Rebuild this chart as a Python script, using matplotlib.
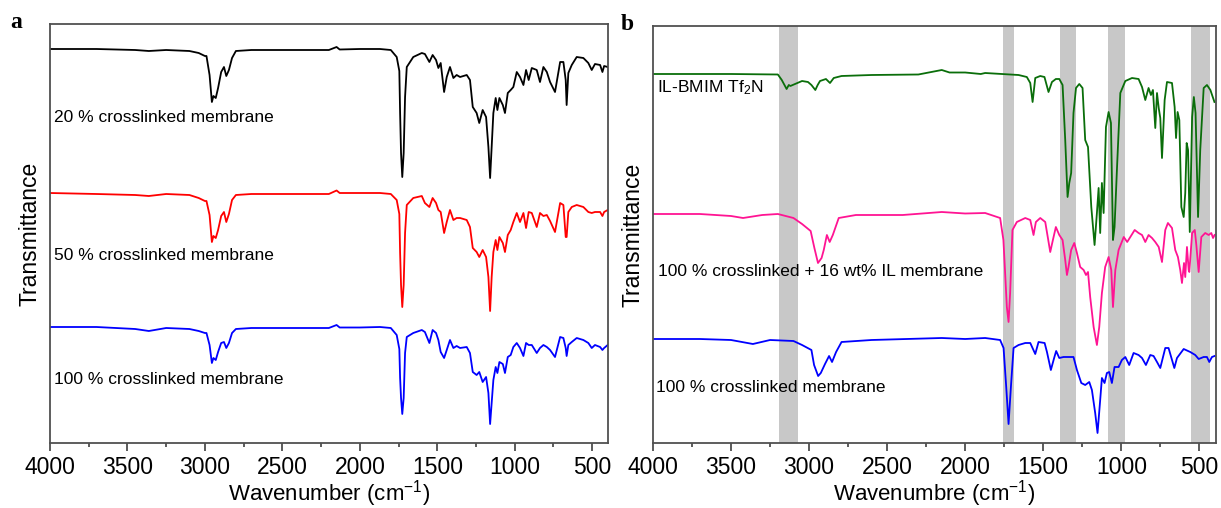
import numpy as np
import matplotlib.pyplot as plt
from matplotlib.ticker import MultipleLocator

# ---------------- panel a : wavenumber / transmittance (a.u., stacked) ----------------
wn_a = [4000, 3700, 3450, 3362, 3250, 3100, 3040, 3000, 2990, 2970, 2955, 2945, 2930, 2915,
        2895, 2877, 2862, 2845, 2825, 2800, 2700, 2500, 2300, 2200, 2150, 2130, 2000, 1870,
        1800, 1762, 1745, 1740, 1734, 1726, 1717, 1708, 1697, 1655, 1600, 1580, 1551, 1530,
        1508, 1493, 1478, 1456, 1439, 1418, 1396, 1375, 1353, 1310, 1289, 1271, 1246, 1229,
        1207, 1185, 1170, 1159, 1149, 1138, 1123, 1112, 1099, 1077, 1063, 1045, 1026, 1009,
        987, 966, 944, 927, 910, 890, 858, 837, 815, 793, 772, 740, 707, 686, 671, 665, 654,
        632, 600, 557, 525, 503, 482, 449, 434, 423, 400]
t_20 = [394, 394, 393, 392, 393, 392, 390, 387, 387, 368, 341, 347, 345, 355,
        371, 376, 367, 373, 385, 392, 393, 393, 393, 393, 396, 393.5, 394, 394,
        393, 386, 372, 330, 290, 266, 290, 346, 376, 386, 390, 389, 381, 388,
        383, 375, 380, 351, 366, 376, 365, 368, 366, 368, 363, 336, 330, 320,
        333, 326, 296, 265, 296, 330, 345, 333, 345, 338, 330, 350, 353, 356,
        371, 366, 358, 373, 363, 375, 373, 361, 376, 371, 361, 351, 381, 381, 363, 338, 370,
        378, 386, 385, 380, 373, 379, 378, 371, 377, 376]
t_50 = [250, 249, 248, 247, 249, 248, 245, 242, 242, 228, 201, 207, 205, 213,
        227, 231, 221, 229, 243, 248, 249, 249, 249, 249, 252.5, 250, 250, 250,
        249, 243, 229, 190, 158, 136, 158, 210, 238, 245, 247, 240, 236, 245,
        240, 233, 231, 210, 221, 233, 223, 225, 225, 223, 216, 195, 191, 186,
        193, 186, 166, 132, 166, 191, 203, 193, 206, 200, 191, 208, 213, 221,
        230, 221, 230, 215, 231, 230, 216, 230, 227, 228, 222, 211, 240, 238, 206, 206, 231,
        236, 238, 236, 231, 230, 231, 231, 227, 231, 233]
t_100a = [116, 116, 114, 112, 115, 114, 112, 110, 110, 98, 80, 85, 83, 91,
          100, 101, 95, 100, 110, 114, 115, 115, 115, 115, 118, 115.5, 115.5, 116,
          115, 108, 94, 65, 45, 29, 45, 90, 106, 110, 113, 111, 100, 113,
          110, 103, 91, 85, 93, 103, 95, 97, 95, 96, 90, 71, 68, 71,
          61, 66, 50, 19, 40, 63, 76, 70, 81, 79, 70, 86, 88, 96,
          100, 95, 87, 100, 98, 98, 90, 95, 98, 96, 93, 86, 106, 105, 95, 87, 98,
          101, 105, 103, 100, 95, 98, 96, 93, 95, 98]

# ---------------- panel b ----------------
wn_il = [4000, 3500, 3200, 3175, 3144, 3130, 3120, 3090, 3045, 3007, 2985, 2960, 2945, 2930,
         2892, 2866, 2842, 2792, 2600, 2300, 2150, 2100, 2000, 1900, 1872, 1658, 1605, 1583,
         1568, 1551, 1519, 1492, 1466, 1444, 1419, 1397, 1376, 1359, 1344, 1333, 1321, 1306,
         1290, 1269, 1248, 1231, 1213, 1192, 1171, 1156, 1145, 1135, 1124, 1113, 1098, 1081,
         1066, 1053, 1043, 1027, 1006, 974, 931, 889, 867, 846, 825, 810, 797, 782, 771, 760,
         750, 739, 722, 707, 675, 658, 649, 639, 628, 615, 600, 590, 581, 572, 561, 546, 535,
         524, 508, 494, 472, 451, 429, 403]
t_il = [369, 369, 368.5, 363, 354, 358, 357, 359, 362, 361, 358, 353, 358, 362,
        364, 360, 365, 367, 368, 368.5, 373, 370.5, 370.5, 369, 370, 368, 366, 360,
        341, 365, 367, 366, 351, 361, 364, 364, 358, 303, 246, 260, 270, 330,
        355, 359, 355, 303, 296, 236, 198, 230, 255, 210, 260, 230, 316, 331,
        320, 203, 216, 276, 350, 362, 365, 364, 356, 343, 355, 348, 353, 315, 350, 335,
        325, 285, 343, 361, 360, 336, 305, 331, 323, 236, 226, 250, 300, 293, 211, 326, 346,
        330, 226, 293, 355, 358, 353, 341]

wn_ilm = [4000, 3700, 3500, 3423, 3300, 3200, 3100, 3045, 2990, 2966, 2943, 2920, 2906, 2886,
          2868, 2848, 2810, 2700, 2400, 2150, 2000, 1872, 1776, 1755, 1745, 1733, 1722, 1712,
          1697, 1669, 1615, 1583, 1562, 1547, 1519, 1487, 1455, 1438, 1419, 1397, 1376, 1359,
          1348, 1338, 1321, 1301, 1284, 1263, 1241, 1226, 1213, 1199, 1177, 1156, 1141, 1124,
          1103, 1081, 1064, 1053, 1038, 1017, 984, 962, 942, 914, 889, 867, 846, 825, 803, 782,
          760, 739, 718, 701, 675, 654, 637, 622, 611, 598, 590, 579, 568, 564, 546, 529, 519,
          504, 487, 462, 440, 423, 412, 402]
t_ilm = [229, 229, 227, 225, 228, 229, 225, 219, 212, 195, 180, 185, 193, 208,
         201, 208, 225, 228, 228, 231, 229.5, 230, 225, 203, 173, 136, 121, 150,
         213, 221, 225, 223, 208, 221, 225, 221, 191, 203, 216, 208, 203, 183,
         168, 176, 193, 200, 190, 176, 173, 168, 171, 146, 116, 98, 116, 150,
         176, 186, 173, 136, 173, 193, 206, 201, 206, 213, 210, 208, 201, 208, 205, 201,
         196, 181, 213, 220, 215, 193, 186, 173, 160, 180, 166, 196, 173, 171, 210, 213, 198,
         171, 206, 210, 208, 210, 205, 208]

wn_100b = [4000, 3700, 3500, 3360, 3250, 3100, 3045, 2985, 2968, 2942, 2925, 2898, 2872, 2853,
           2827, 2792, 2600, 2150, 2000, 1872, 1776, 1754, 1737, 1722, 1707, 1690, 1658, 1615,
           1583, 1551, 1530, 1491, 1476, 1451, 1430, 1417, 1397, 1370, 1338, 1306, 1284, 1256,
           1231, 1205, 1188, 1167, 1152, 1135, 1124, 1107, 1092, 1077, 1060, 1043, 1017, 996,
           974, 949, 921, 889, 867, 842, 814, 793, 771, 750, 718, 697, 660, 643, 600, 558, 526,
           504, 472, 451, 436, 419, 402]
t_100b = [104, 104, 103, 99, 103, 102, 98, 93, 78, 67, 70, 79, 87, 81,
          91, 101, 103, 105, 104, 105, 103, 95, 56, 19, 56, 95, 98, 100,
          100, 89, 101, 100, 91, 73, 85, 92, 85, 86, 86, 86, 73, 60,
          58, 61, 53, 30, 10, 43, 65, 60, 70, 71, 60, 76, 76, 83,
          86, 78, 90, 88, 85, 78, 88, 87, 81, 75, 95, 95, 75, 85, 94, 91, 88,
          84, 86, 86, 81, 86, 87]

bands = [(3190, 3070), (1760, 1685), (1390, 1290), (1085, 975), (550, 432)]

labels_a = ['20 % crosslinked membrane', '50 % crosslinked membrane', '100 % crosslinked membrane']
labels_b = ['IL-BMIM Tf$_2$N', '100 % crosslinked + 16 wt% IL membrane', '100 % crosslinked membrane']

plt.rcParams['font.family'] = ['Liberation Sans', 'DejaVu Sans']
plt.rcParams['mathtext.fontset'] = 'custom'
plt.rcParams['mathtext.rm'] = 'Liberation Sans'
plt.rcParams['mathtext.it'] = 'Liberation Sans'

fig = plt.figure(figsize=(12.21, 5.08), dpi=100)
ax1 = fig.add_axes([50 / 1221, 65 / 508, 558 / 1221, 419 / 508])
ax2 = fig.add_axes([653 / 1221, 65 / 508, 563 / 1221, 417 / 508])

ax1.plot(wn_a, t_20, color='black', lw=1.3)
ax1.plot(wn_a, t_50, color='#FF0000', lw=1.3)
ax1.plot(wn_a, t_100a, color='#0000FF', lw=1.3)
ax1.text(3975, 326, labels_a[0], fontsize=12.5, va='center')
ax1.text(3975, 187, labels_a[1], fontsize=12.5, va='center')
ax1.text(3975, 64, labels_a[2], fontsize=12.5, va='center')
ax1.set_xlim(4000, 398)
ax1.set_ylim(0, 419)
ax1.set_xlabel('Wavenumber (cm$^{-1}$)', fontsize=16, labelpad=0)

for lo, hi in bands:
    ax2.axvspan(lo, hi, color='#C8C8C8', lw=0, zorder=0)
ax2.plot(wn_il, t_il, color='#0A6E0A', lw=1.3)
ax2.plot(wn_ilm, t_ilm, color='#FF1493', lw=1.3)
ax2.plot(wn_100b, t_100b, color='#0000FF', lw=1.3)
ax2.text(3975, 355, labels_b[0], fontsize=12.5, va='center')
ax2.text(3965, 171, labels_b[1], fontsize=12.5, va='center')
ax2.text(3980, 55, labels_b[2], fontsize=12.5, va='center')
ax2.set_xlim(4000, 393)
ax2.set_ylim(0, 417)
ax2.set_xlabel('Wavenumbre (cm$^{-1}$)', fontsize=16, labelpad=0)

for ax in (ax1, ax2):
    ax.set_yticks([])
    ax.set_ylabel('Transmittance', fontsize=16.5, labelpad=6)
    ax.xaxis.set_major_locator(MultipleLocator(500))
    ax.xaxis.set_minor_locator(MultipleLocator(250))
    ax.tick_params(axis='x', which='major', direction='out', length=6, width=1.2,
                   labelsize=16.5, pad=3, color='#404040')
    ax.tick_params(axis='x', which='minor', direction='out', length=3, width=1.2, color='#404040')
    for sp in ax.spines.values():
        sp.set_color('#505050')
        sp.set_linewidth(1.3)

fig.text(10 / 1221, 1 - 22 / 508, 'a', fontsize=17, fontweight='bold',
         family='Liberation Serif', va='center')
fig.text(621 / 1221, 1 - 24 / 508, 'b', fontsize=17, fontweight='bold',
         family='Liberation Serif', va='center')

fig.savefig('out.png', dpi=100)
